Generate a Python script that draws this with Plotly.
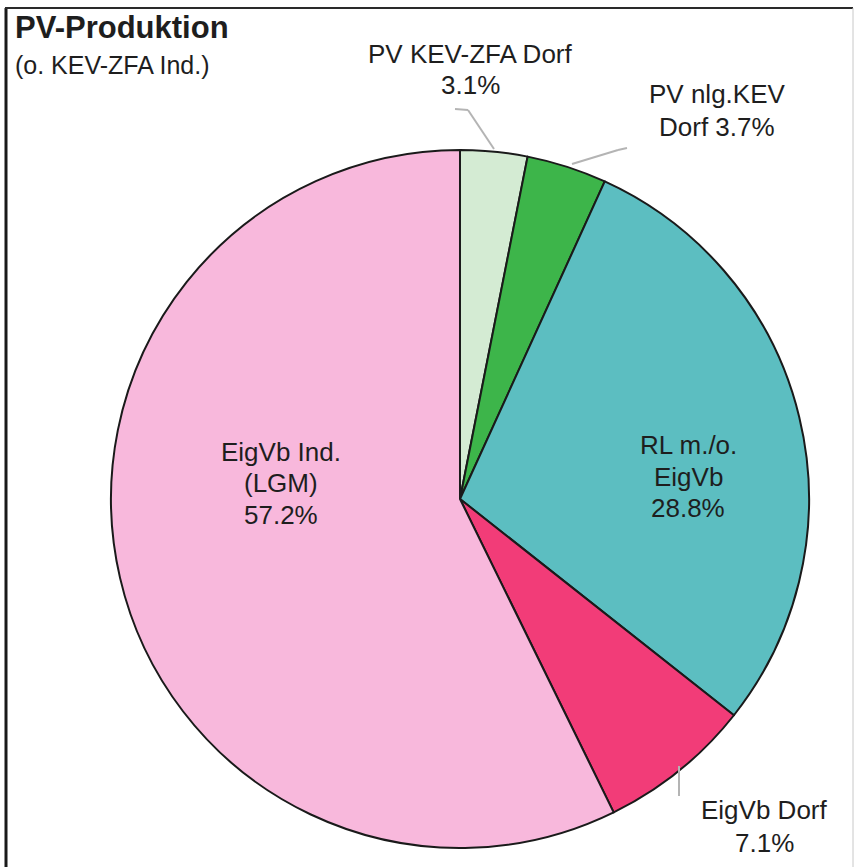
import plotly.graph_objects as go

# ---- data ----
labels = ["PV KEV-ZFA Dorf", "PV nlg.KEV Dorf", "RL m./o. EigVb", "EigVb Dorf", "EigVb Ind. (LGM)"]
values = [3.1, 3.7, 28.8, 7.1, 57.2]
label_lines = [["PV KEV-ZFA Dorf"], ["PV nlg.KEV", "Dorf"], ["RL m./o.", "EigVb"], ["EigVb Dorf"], ["EigVb Ind.", "(LGM)"]]
pct_own_line = [True, False, True, True, True]
colors = ["#d4ebd3", "#3db54a", "#5cbec1", "#f23c78", "#f8b8dc"]
title_text = "PV-Produktion"
subtitle_text = "(o. KEV-ZFA Ind.)"

W, H = 855, 867
FONT = "Liberation Sans, Arial, sans-serif"

def px(x):
    return x / W

def py(y):
    return 1 - y / H

cx, cy, r = 460, 499, 349

fig = go.Figure(go.Pie(
    labels=labels,
    values=values,
    sort=False,
    direction="clockwise",
    rotation=0,
    marker=dict(colors=colors, line=dict(color="#1a1a1a", width=2)),
    textinfo="none",
    hoverinfo="label+percent",
    domain=dict(x=[px(cx - r), px(cx + r)], y=[py(cy + r), py(cy - r)]),
    showlegend=False,
))

def lines_for(i):
    lines = list(label_lines[i])
    pct = f"{values[i]:.1f}%"
    if pct_own_line[i]:
        lines.append(pct)
    else:
        lines[-1] = lines[-1] + " " + pct
    return lines

# label centre x and first-line y (pixels), line spacing
label_pos = [(470, 54, 31), (717, 94, 33), (688, 445, 31.5), (764, 810, 33), (281, 452, 31.5)]
annotations = []
for i, (x, y0, dy) in enumerate(label_pos):
    for k, line in enumerate(lines_for(i)):
        annotations.append(dict(
            x=px(x), y=py(y0 + k * dy), xref="paper", yref="paper", showarrow=False,
            text=line, align="center", xanchor="center", yanchor="middle",
            font=dict(family=FONT, size=26, color="#1e1e1e"),
        ))

annotations.append(dict(x=px(13), y=py(28), xref="paper", yref="paper", showarrow=False,
                        text="<b>" + title_text + "</b>", xanchor="left", yanchor="middle",
                        font=dict(family=FONT, size=31, color="#1e1e1e")))
annotations.append(dict(x=px(13), y=py(65), xref="paper", yref="paper", showarrow=False,
                        text=subtitle_text, xanchor="left", yanchor="middle",
                        font=dict(family=FONT, size=25, color="#1e1e1e")))

leader = [
    [(455, 109), (468, 110), (494, 149)],
    [(627, 148), (618, 150), (572, 164)],
    [(679, 766), (679, 796)],
]
shapes = []
for pts in leader:
    for (x0, y0), (x1, y1) in zip(pts[:-1], pts[1:]):
        shapes.append(dict(type="line", xref="paper", yref="paper",
                           x0=px(x0), y0=py(y0), x1=px(x1), y1=py(y1),
                           line=dict(color="#b4b4b4", width=2)))

# frame
shapes.append(dict(type="line", xref="paper", yref="paper", x0=px(6), y0=py(8), x1=px(6), y1=py(870),
                   line=dict(color="#1a1a1a", width=3)))
shapes.append(dict(type="line", xref="paper", yref="paper", x0=px(5), y0=py(8), x1=px(853), y1=py(8),
                   line=dict(color="#2a2a2a", width=2)))
shapes.append(dict(type="line", xref="paper", yref="paper", x0=px(853), y0=py(8), x1=px(853), y1=py(870),
                   line=dict(color="#c8c8c8", width=1)))

fig.update_layout(
    width=W, height=H,
    margin=dict(l=0, r=0, t=0, b=0),
    paper_bgcolor="white", plot_bgcolor="white",
    annotations=annotations, shapes=shapes,
    font=dict(family=FONT),
)

fig.write_html("out.html",
               config={"displayModeBar": False},
               post_script="document.body.style.margin='0';document.body.style.overflow='hidden';")
